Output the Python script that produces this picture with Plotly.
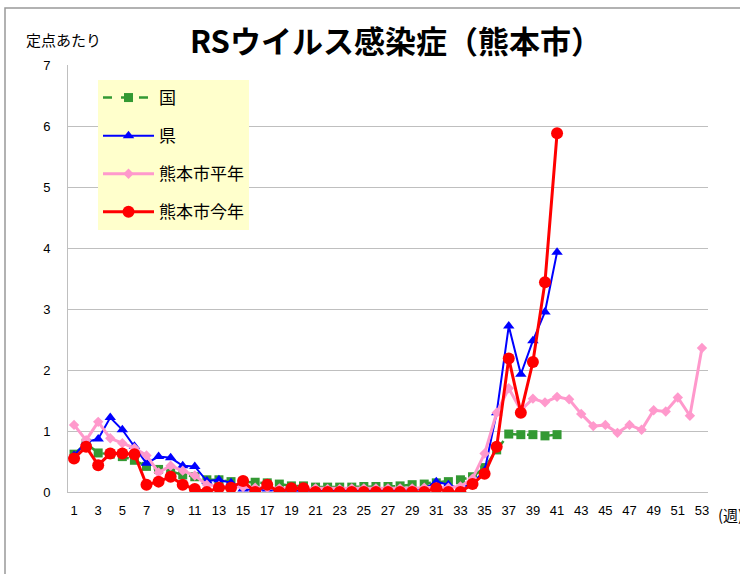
import plotly.graph_objects as go

weeks = list(range(1, 54))
tick_weeks = list(range(1, 54, 2))

kuni = [0.62, 0.80, 0.64, 0.62, 0.58, 0.52, 0.42, 0.37, 0.34, 0.28,
        0.25, 0.20, 0.20, 0.17, 0.17, 0.16, 0.15, 0.13, 0.10, 0.10,
        0.08, 0.08, 0.08, 0.08, 0.09, 0.09, 0.09, 0.10, 0.12, 0.13,
        0.15, 0.17, 0.20, 0.25, 0.40, 0.69, 0.95, 0.94, 0.94, 0.92, 0.94]

ken = [0.60, 0.82, 0.87, 1.22, 1.02, 0.75, 0.47, 0.58, 0.56, 0.43,
       0.42, 0.18, 0.20, 0.15, 0.05, 0.03, 0.05, 0.02, 0.02, 0.02,
       0.02, 0.03, 0.02, 0.02, 0.03, 0.03, 0.02, 0.03, 0.05, 0.05,
       0.17, 0.12, 0.05, 0.15, 0.35, 1.30, 2.72, 1.93, 2.48, 2.95, 3.93]

heinen = [1.10, 0.85, 1.15, 0.88, 0.80, 0.72, 0.60, 0.32, 0.43, 0.35,
          0.27, 0.12, 0.10, 0.08, 0.08, 0.07, 0.07, 0.06, 0.06, 0.06,
          0.06, 0.05, 0.05, 0.06, 0.06, 0.06, 0.06, 0.06, 0.06, 0.07,
          0.08, 0.07, 0.09, 0.22, 0.63, 1.30, 1.70, 1.34, 1.53, 1.47,
          1.56, 1.52, 1.28, 1.08, 1.10, 0.97, 1.10, 1.02, 1.34, 1.32,
          1.55, 1.25, 2.36]

kotoshi = [0.55, 0.74, 0.44, 0.63, 0.63, 0.62, 0.12, 0.17, 0.25, 0.12,
           0.05, 0.00, 0.07, 0.07, 0.18, 0.00, 0.12, 0.00, 0.06, 0.06,
           0.00, 0.00, 0.00, 0.00, 0.00, 0.00, 0.00, 0.00, 0.00, 0.00,
           0.06, 0.00, 0.00, 0.13, 0.30, 0.74, 2.19, 1.30, 2.13, 3.44, 5.88]

FONT = "Noto Sans CJK JP"

fig = go.Figure()
fig.add_trace(go.Scatter(
    x=weeks[:len(kuni)], y=kuni, name="国", mode="lines+markers", legendgroup="a",
    line=dict(color="#339933", width=2.5, dash="dash"),
    marker=dict(symbol="square", size=9, color="#339933")))
fig.add_trace(go.Scatter(
    x=weeks[:len(ken)], y=ken, name="県", mode="lines+markers", legendgroup="b",
    line=dict(color="#0000ff", width=2),
    marker=dict(symbol="triangle-up", size=10, color="#0000ff")))
fig.add_trace(go.Scatter(
    x=weeks[:len(heinen)], y=heinen, name="熊本市平年", mode="lines+markers", legendgroup="c",
    line=dict(color="#ff99cc", width=3),
    marker=dict(symbol="diamond", size=8, color="#ff99cc")))
fig.add_trace(go.Scatter(
    x=weeks[:len(kotoshi)], y=kotoshi, name="熊本市今年", mode="lines+markers", legendgroup="d",
    line=dict(color="#ff0000", width=3),
    marker=dict(symbol="circle", size=12, color="#ff0000")))

fig.update_layout(
    width=740, height=574,
    margin=dict(l=68, r=32, t=65, b=82),
    paper_bgcolor="white", plot_bgcolor="white",
    font=dict(family=FONT, size=13, color="#000000"),
    title=dict(text="RSウイルス感染症（熊本市）", x=0.535, xanchor="center", y=0.927, yanchor="middle",
               font=dict(family=FONT, size=31, color="#000000", weight="bold")),
    legend=dict(x=(98 - 68) / 640, y=(492 - 80) / 427, xanchor="left", yanchor="top",
                bgcolor="#ffffcc", borderwidth=0,
                font=dict(family=FONT, size=17, color="#000000"),
                tracegroupgap=13, itemwidth=51),
    showlegend=True,
)
fig.update_xaxes(range=[0.5, 53.5], tickmode="array", tickvals=tick_weeks,
                 ticks="outside", ticklen=6, tickcolor="rgba(0,0,0,0)",
                 showgrid=False, showline=True, linecolor="#bfbfbf", zeroline=False,
                 tickfont=dict(family="Liberation Sans", size=13, color="#000000"))
fig.update_yaxes(range=[0, 7], dtick=1, ticks="outside", ticklen=14, tickcolor="rgba(0,0,0,0)",
                 showgrid=True, gridcolor="#bfbfbf", gridwidth=1,
                 showline=True, linecolor="#bfbfbf", zeroline=False,
                 tickfont=dict(family="Liberation Sans", size=13, color="#000000"))

fig.add_annotation(text="定点あたり", xref="paper", yref="paper",
                   x=(24 - 68) / 640, y=(492 - 40) / 427, xanchor="left", yanchor="middle",
                   showarrow=False, font=dict(family=FONT, size=15))
fig.add_annotation(text="(週)", xref="paper", yref="paper",
                   x=(716 - 68) / 640, y=(492 - 514) / 427, xanchor="left", yanchor="middle",
                   showarrow=False, font=dict(family=FONT, size=15))
# outer frame
fig.add_shape(type="rect", xref="paper", yref="paper",
              x0=(5 - 68) / 640, x1=(760 - 68) / 640,
              y0=(492 - 600) / 427, y1=(492 - 8) / 427,
              line=dict(color="#999999", width=1.5), layer="below")

fig.write_html("out.html", config={"displayModeBar": False},
               post_script="document.body.style.margin='0';")
